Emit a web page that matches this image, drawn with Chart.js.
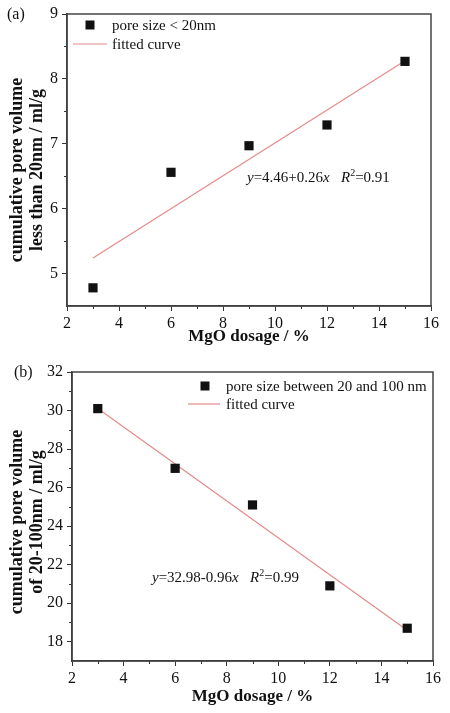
<!DOCTYPE html>
<html>
<head>
<meta charset="utf-8">
<script src="https://cdn.jsdelivr.net/npm/chart.js@4/dist/chart.umd.min.js"></script>
<style>
  html, body { margin: 0; padding: 0; background: #fff; }
  canvas { display: block; }
</style>
</head>
<body>
<canvas id="chartA" width="450" height="352"></canvas>
<canvas id="chartB" width="450" height="361"></canvas>
<script>
/* ===== DATA ===== */
const dosage = [3, 6, 9, 12, 15];
const poreSmall = [4.78, 6.56, 6.97, 7.29, 8.27];
const poreMid = [30.1, 27.0, 25.1, 20.9, 18.7];

const fitX = [3, 15];
const fitSmall = [5.24, 8.28];
const fitMid = [30.1, 18.6];

const xTicks = [2, 4, 6, 8, 10, 12, 14, 16];
const yTicksA = [5, 6, 7, 8, 9];
const yTicksB = [18, 20, 22, 24, 26, 28, 30, 32];

const SERIF = "'Liberation Serif', 'Times New Roman', serif";
const AXIS = "#333";
const TEXT = "#111";
const FIT = "#e48a8a";

const pts = (xs, ys) => xs.map((x, i) => ({ x: x, y: ys[i] }));

/* ===== minor ticks, frame, y title, legend, equation ===== */
const decor = {
  id: "decor",
  afterDraw(chart, args, opts) {
    const ctx = chart.ctx;
    const a = chart.chartArea;
    const xs = chart.scales.x;
    const ys = chart.scales.y;
    ctx.save();

    // minor ticks (outside)
    ctx.strokeStyle = AXIS;
    ctx.lineWidth = 1;
    ctx.beginPath();
    for (let v = xs.min + opts.xMinor; v < xs.max; v += opts.xMinor * 2) {
      const px = Math.round(xs.getPixelForValue(v)) + 0.5;
      ctx.moveTo(px, a.bottom);
      ctx.lineTo(px, a.bottom + 3);
    }
    for (let v = opts.yMinorStart; v < ys.max; v += opts.yMinor * 2) {
      const py = Math.round(ys.getPixelForValue(v)) + 0.5;
      ctx.moveTo(a.left, py);
      ctx.lineTo(a.left - 3, py);
    }
    ctx.stroke();

    // frame
    ctx.lineWidth = 1.5;
    ctx.strokeStyle = "#444";
    ctx.strokeRect(a.left, a.top, a.right - a.left, a.bottom - a.top);

    // y axis title (two rotated lines)
    const yt = opts.yTitle;
    ctx.fillStyle = TEXT;
    ctx.font = "bold 18px " + SERIF;
    ctx.textAlign = "center";
    ctx.textBaseline = "middle";
    yt.lines.forEach((line, i) => {
      ctx.save();
      ctx.translate(yt.x + i * 20, yt.cy);
      ctx.rotate(-Math.PI / 2);
      ctx.fillText(line, 0, 0);
      ctx.restore();
    });

    // panel label
    ctx.textAlign = "left";
    ctx.font = "16px " + SERIF;
    ctx.fillText(opts.panel.text, opts.panel.x, opts.panel.y);

    // legend
    const lg = opts.legend;
    ctx.font = "15px " + SERIF;
    ctx.fillStyle = "#111";
    ctx.fillRect(lg.markX - 4.5, lg.markY - 4.5, 9, 9);
    ctx.fillStyle = TEXT;
    ctx.fillText(lg.pointLabel, lg.textX, lg.markY + 1);
    ctx.strokeStyle = FIT;
    ctx.lineWidth = 1.2;
    ctx.beginPath();
    ctx.moveTo(lg.lineX0, lg.lineY);
    ctx.lineTo(lg.lineX1, lg.lineY);
    ctx.stroke();
    ctx.fillText(lg.lineLabel, lg.textX, lg.lineY + 1);

    // equation
    let x = opts.eq.x;
    const y = opts.eq.y;
    opts.eq.parts.forEach((p) => {
      const size = p.sup ? 10 : 15;
      ctx.font = (p.it ? "italic " : "") + size + "px " + SERIF;
      ctx.fillText(p.t, x, p.sup ? y - 5 : y);
      x += ctx.measureText(p.t).width;
    });

    ctx.restore();
  },
};

function makeChart(id, cfg) {
  return new Chart(document.getElementById(id), {
    type: "scatter",
    data: {
      datasets: [
        {
          label: cfg.pointLabel,
          data: pts(dosage, cfg.values),
          pointStyle: "rect",
          pointRadius: 6.5,
          pointHoverRadius: 6.5,
          backgroundColor: "#111",
          borderColor: "#111",
          borderWidth: 0,
        },
        {
          label: "fitted curve",
          data: pts(fitX, cfg.fit),
          showLine: true,
          pointRadius: 0,
          borderColor: FIT,
          borderWidth: 1.2,
        },
      ],
    },
    options: {
      responsive: false,
      animation: false,
      layout: { padding: cfg.padding },
      plugins: {
        legend: { display: false },
        tooltip: { enabled: false },
        decor: cfg.decor,
      },
      scales: {
        x: {
          type: "linear",
          min: 2,
          max: 16,
          afterBuildTicks: (s) => { s.ticks = xTicks.map((v) => ({ value: v })); },
          afterFit: (s) => { s.height = cfg.xHeight; },
          ticks: { font: { family: SERIF, size: 16 }, color: TEXT, padding: 3 },
          grid: { drawOnChartArea: false, tickLength: 5, tickColor: AXIS },
          border: { color: AXIS, width: 1.5 },
          title: {
            display: true,
            text: "MgO dosage / %",
            font: { family: SERIF, size: 17, weight: "bold" },
            color: TEXT,
            padding: { top: 0, bottom: cfg.xTitlePad },
          },
        },
        y: {
          min: cfg.yMin,
          max: cfg.yMax,
          afterBuildTicks: (s) => { s.ticks = cfg.yTicks.map((v) => ({ value: v })); },
          afterFit: (s) => { s.width = cfg.yWidth; },
          ticks: { font: { family: SERIF, size: 16 }, color: TEXT, padding: 4 },
          grid: { drawOnChartArea: false, tickLength: 5, tickColor: AXIS },
          border: { color: AXIS, width: 1.5 },
          title: { display: false },
        },
      },
    },
    plugins: [decor],
  });
}

/* ===== (a) pore size < 20nm ===== */
makeChart("chartA", {
  pointLabel: "pore size < 20nm",
  values: poreSmall,
  fit: fitSmall,
  yMin: 4.5,
  yMax: 9,
  yTicks: yTicksA,
  padding: { top: 14, right: 19, left: 0, bottom: 0 },
  xHeight: 46,
  yWidth: 67,
  xTitlePad: 5,
  decor: {
    xMinor: 1,
    yMinor: 0.5,
    yMinorStart: 5.5,
    yTitle: { lines: ["cumulative pore volume", "less than 20nm / ml/g"], x: 17, cy: 170 },
    panel: { text: "(a)", x: 7, y: 15 },
    legend: {
      pointLabel: "pore size < 20nm",
      lineLabel: "fitted curve",
      markX: 90, markY: 25, textX: 112,
      lineX0: 73, lineX1: 107, lineY: 44,
    },
    eq: {
      x: 247, y: 178,
      parts: [
        { t: "y", it: true }, { t: "=4.46+0.26" }, { t: "x", it: true },
        { t: "   " }, { t: "R", it: true }, { t: "2", sup: true }, { t: "=0.91" },
      ],
    },
  },
});

/* ===== (b) pore size between 20 and 100 nm ===== */
makeChart("chartB", {
  pointLabel: "pore size between 20 and 100 nm",
  values: poreMid,
  fit: fitMid,
  yMin: 17,
  yMax: 32,
  yTicks: yTicksB,
  padding: { top: 20, right: 17, left: 0, bottom: 0 },
  xHeight: 52,
  yWidth: 72,
  xTitlePad: 6,
  decor: {
    xMinor: 1,
    yMinor: 1,
    yMinorStart: 19,
    yTitle: { lines: ["cumulative pore volume", "of 20-100nm / ml/g"], x: 17, cy: 170 },
    panel: { text: "(b)", x: 14, y: 21 },
    legend: {
      pointLabel: "pore size between 20 and 100 nm",
      lineLabel: "fitted curve",
      markX: 205, markY: 34, textX: 226,
      lineX0: 188, lineX1: 220, lineY: 52,
    },
    eq: {
      x: 152, y: 226,
      parts: [
        { t: "y", it: true }, { t: "=32.98-0.96" }, { t: "x", it: true },
        { t: "   " }, { t: "R", it: true }, { t: "2", sup: true }, { t: "=0.99" },
      ],
    },
  },
});
</script>
</body>
</html>
